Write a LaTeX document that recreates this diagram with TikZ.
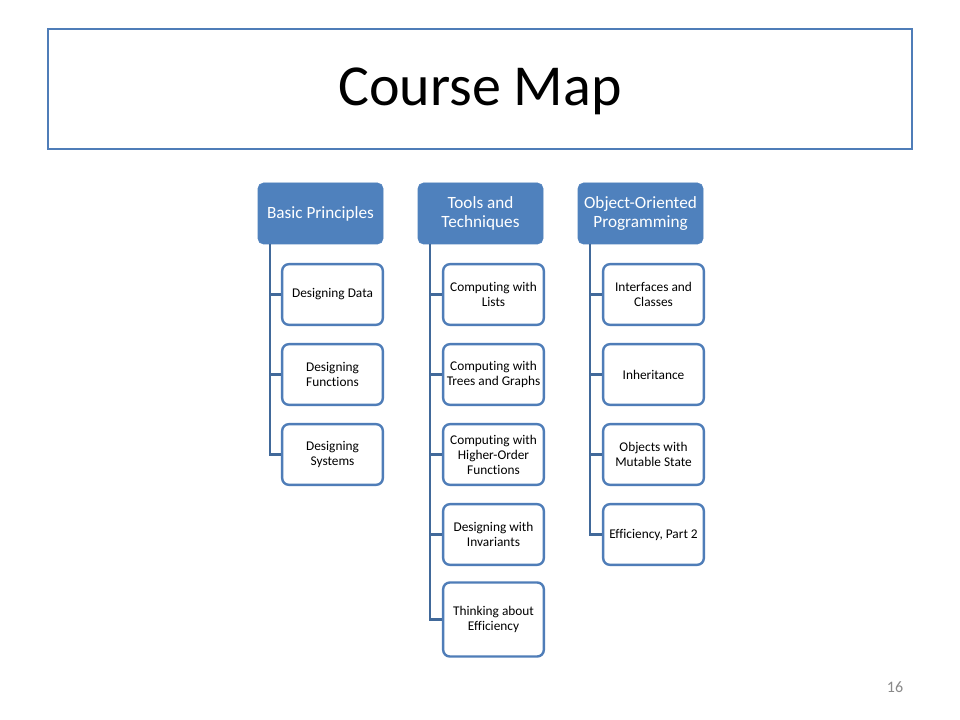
\documentclass[tikz,border=0pt]{standalone}
\usepackage{fontspec}
\setmainfont[Ligatures=NoCommon]{Carlito}
\definecolor{hdr}{HTML}{4F81BD}
\definecolor{brd}{HTML}{4F7DB8}
\definecolor{conn}{HTML}{41699A}
\definecolor{pgnum}{HTML}{898989}
\begin{document}
\begin{tikzpicture}[x=0.75pt,y=-0.75pt,
  hdrbox/.style={draw=hdr, fill=hdr, rounded corners=4pt, minimum width=93.75pt, minimum height=45.75pt,
    text=white, align=center, font=\fontsize{12.9}{14.3}\selectfont, inner sep=1pt},
  childbox/.style={draw=brd, fill=white, line width=1.8pt, rounded corners=5pt, minimum width=75.5pt, minimum height=45.5pt,
    align=center, font=\fontsize{10}{11.25}\selectfont, inner sep=1pt},
  conline/.style={draw=conn, line width=2.2pt}]
\useasboundingbox (0,0) rectangle (960,720);
\fill[white] (0,0) rectangle (960,720);
\node[draw=brd, line width=1.6pt, minimum width=648pt, minimum height=90pt] (title) at (480,89) {};
\node[font=\fontsize{43.5}{48}\selectfont] (ttext) at (480,91) {Course Map};
% headers
\node[hdrbox] (h1) at (320.5,213.5) {Basic Principles};
\node[hdrbox] (h2) at (480.5,213.5) {Tools and\\Techniques};
\node[hdrbox] (h3) at (640.5,213.5) {Object-Oriented\\Programming};
% column 1
\node[childbox] (a1) at (332.5,294.5) {Designing Data};
\node[childbox] (a2) at (332.5,374.5) {Designing\\Functions};
\node[childbox] (a3) at (332.5,454.5) {Designing\\Systems};
% column 2
\node[childbox] (b1) at (493.5,294.5) {Computing with\\Lists};
\node[childbox] (b2) at (493.5,374.5) {Computing with\\Trees and Graphs};
\node[childbox] (b3) at (493.5,454.5) {Computing with\\Higher-Order\\Functions};
\node[childbox] (b4) at (493.5,534.5) {Designing with\\Invariants};
\node[childbox, minimum height=55.5pt] (b5) at (493.5,619.5) {Thinking about\\Efficiency};
% column 3
\node[childbox] (c1) at (653.5,294.5) {Interfaces and\\Classes};
\node[childbox] (c2) at (653.5,374.5) {Inheritance};
\node[childbox] (c3) at (653.5,454.5) {Objects with\\Mutable State};
\node[childbox] (c4) at (653.5,534.5) {Efficiency, Part 2};
% connectors
\coordinate (v1) at (270,244);
\coordinate (v2) at (430,244);
\coordinate (v3) at (590,244);
\draw[conline] (v1) |- (a3.west);
\draw[conline] (v1 |- a1.west) -- (a1.west);
\draw[conline] (v1 |- a2.west) -- (a2.west);
\draw[conline] (v2) |- (b5.west);
\draw[conline] (v2 |- b1.west) -- (b1.west);
\draw[conline] (v2 |- b2.west) -- (b2.west);
\draw[conline] (v2 |- b3.west) -- (b3.west);
\draw[conline] (v2 |- b4.west) -- (b4.west);
\draw[conline] (v3) |- (c4.west);
\draw[conline] (v3 |- c1.west) -- (c1.west);
\draw[conline] (v3 |- c2.west) -- (c2.west);
\draw[conline] (v3 |- c3.west) -- (c3.west);
\node[text=pgnum, font=\fontsize{12}{14}\selectfont] (pg) at (895,687) {16};
\end{tikzpicture}
\end{document}
